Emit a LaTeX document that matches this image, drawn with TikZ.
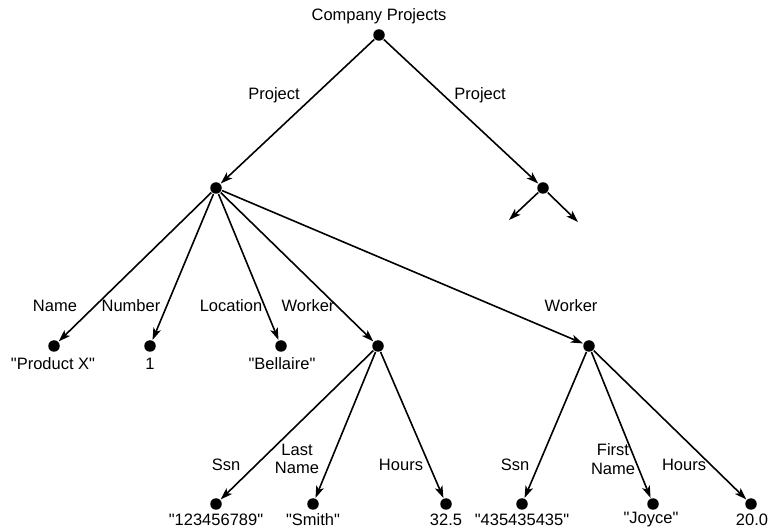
\documentclass[tikz,border=0pt]{standalone}
\usepackage{fontspec}
\setmainfont{Liberation Sans}[Ligatures=TeXOff]
\usetikzlibrary{arrows.meta}
\newcommand{\dq}[1]{"#1"}

\begin{document}
\begin{tikzpicture}[>={Stealth[length=12bp,width=8bp,inset=3bp]},line join=bevel,line width=1.6pt,
  dot/.style={circle,fill=black,inner sep=0pt,minimum size=11.5bp},
  lbl/.style={inner sep=0pt,align=center,font=\fontsize{16.5bp}{18.5bp}\selectfont}]
%%
\useasboundingbox (0bp,0bp) rectangle (768bp,528bp);
  \node (root) at (379.0bp,493.0bp) [dot] {};
  \node (rootlbl) at (379.0bp,512.0bp) [lbl] {Company Projects};
  \node (proj1) at (216.0bp,340.0bp) [dot] {};
  \node (proj2) at (543.0bp,340.0bp) [dot] {};
  \coordinate (more1) at (509.0bp,308.0bp);
  \coordinate (more2) at (578.0bp,306.0bp);
  \node (proj1lbl) at (274.0bp,433.0bp) [lbl] {Project};
  \node (proj2lbl) at (480.0bp,433.0bp) [lbl] {Project};
%
  \node (name) at (54.0bp,182.0bp) [dot] {};
  \node (number) at (150.0bp,182.0bp) [dot] {};
  \node (location) at (281.0bp,182.0bp) [dot] {};
  \node (worker1) at (378.0bp,182.0bp) [dot] {};
  \node (worker2) at (589.0bp,182.0bp) [dot] {};
  \node (namelbl) at (55.0bp,222.0bp) [lbl] {Name};
  \node (numberlbl) at (131.0bp,222.0bp) [lbl] {Number};
  \node (locationlbl) at (231.0bp,222.0bp) [lbl] {Location};
  \node (worker1lbl) at (308.0bp,222.0bp) [lbl] {Worker};
  \node (worker2lbl) at (571.0bp,222.0bp) [lbl] {Worker};
  \node (nameval) at (53.0bp,164.0bp) [lbl] {\dq{Product X}};
  \node (numberval) at (150.0bp,164.0bp) [lbl] {1};
  \node (locationval) at (282.0bp,164.0bp) [lbl] {\dq{Bellaire}};
%
  \node (ssn1) at (216.0bp,24.0bp) [dot] {};
  \node (lname1) at (313.0bp,24.0bp) [dot] {};
  \node (hours1) at (446.0bp,24.0bp) [dot] {};
  \node (ssn2) at (522.0bp,24.0bp) [dot] {};
  \node (fname2) at (653.0bp,24.0bp) [dot] {};
  \node (hours2) at (751.0bp,24.0bp) [dot] {};
  \node (ssn1lbl) at (226.0bp,63.0bp) [lbl] {Ssn};
  \node (lname1lbl) at (297.0bp,69.0bp) [lbl] {Last\\Name};
  \node (hours1lbl) at (401.0bp,63.0bp) [lbl] {Hours};
  \node (ssn2lbl) at (515.0bp,63.0bp) [lbl] {Ssn};
  \node (fname2lbl) at (613.0bp,69.0bp) [lbl] {First\\Name};
  \node (hours2lbl) at (684.0bp,63.0bp) [lbl] {Hours};
  \node (ssn1val) at (216.0bp,8.5bp) [lbl] {\dq{123456789}};
  \node (lname1val) at (313.0bp,8.5bp) [lbl] {\dq{Smith}};
  \node (hours1val) at (446.0bp,8.5bp) [lbl] {32.5};
  \node (ssn2val) at (522.0bp,8.5bp) [lbl] {\dq{435435435}};
  \node (fname2val) at (651.0bp,8.5bp) [lbl] {\dq{Joyce}};
  \node (hours2val) at (752.0bp,8.5bp) [lbl] {20.0};
%
  \draw [->] (root) -- (proj1);
  \draw [->] (root) -- (proj2);
  \draw [->] (proj2) -- (more1);
  \draw [->] (proj2) -- (more2);
  \draw [->] (proj1) -- (name);
  \draw [->] (proj1) -- (number);
  \draw [->] (proj1) -- (location);
  \draw [->] (proj1) -- (worker1);
  \draw [->] (proj1) -- (worker2);
  \draw [->] (worker1) -- (ssn1);
  \draw [->] (worker1) -- (lname1);
  \draw [->] (worker1) -- (hours1);
  \draw [->] (worker2) -- (ssn2);
  \draw [->] (worker2) -- (fname2);
  \draw [->] (worker2) -- (hours2);
%
\end{tikzpicture}
\end{document}
